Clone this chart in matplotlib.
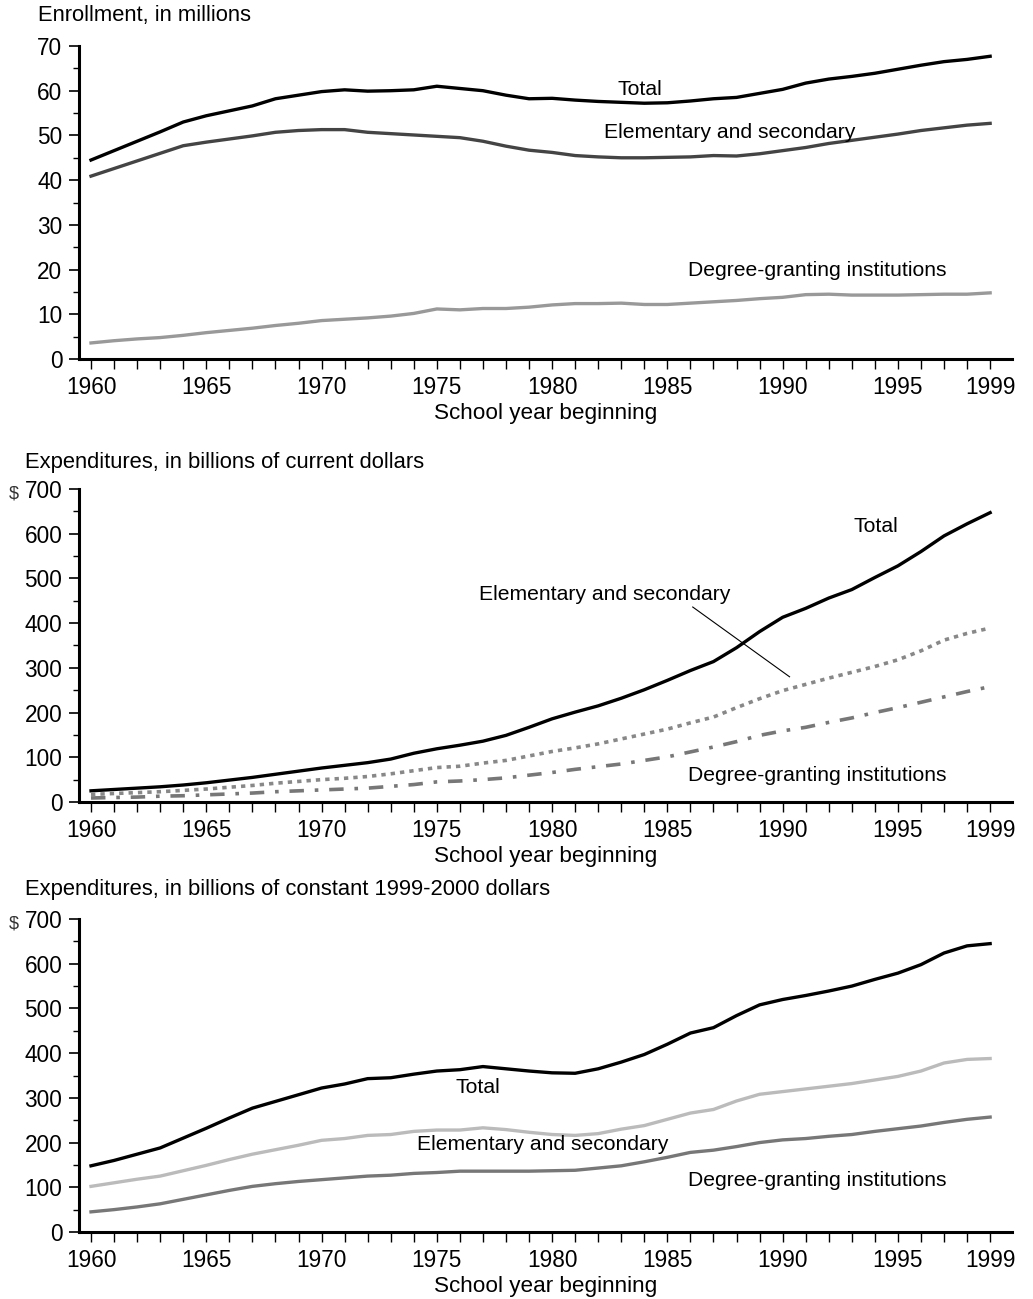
import numpy as np
import matplotlib
matplotlib.use("Agg")
import matplotlib.pyplot as plt
from matplotlib.ticker import MultipleLocator, FixedLocator

plt.rcParams['font.family'] = ['Liberation Sans', 'DejaVu Sans']

years = np.arange(1960, 2000)

# enrollment, millions
enr_total = [44.5, 46.6, 48.7, 50.8, 53.0, 54.4, 55.5, 56.6, 58.2, 59.0,
             59.8, 60.2, 59.9, 60.0, 60.2, 61.0, 60.5, 60.0, 59.0, 58.2,
             58.3, 57.9, 57.6, 57.4, 57.2, 57.3, 57.7, 58.2, 58.5, 59.4,
             60.3, 61.7, 62.6, 63.2, 63.9, 64.8, 65.7, 66.5, 67.0, 67.7]
enr_elsec = [40.9, 42.6, 44.3, 46.0, 47.7, 48.5, 49.2, 49.9, 50.7, 51.1,
             51.3, 51.3, 50.7, 50.4, 50.1, 49.8, 49.5, 48.7, 47.6, 46.7,
             46.2, 45.5, 45.2, 45.0, 45.0, 45.1, 45.2, 45.5, 45.4, 45.9,
             46.6, 47.3, 48.2, 48.9, 49.6, 50.3, 51.1, 51.7, 52.3, 52.7]
enr_degree = [3.6, 4.1, 4.5, 4.8, 5.3, 5.9, 6.4, 6.9, 7.5, 8.0,
              8.6, 8.9, 9.2, 9.6, 10.2, 11.2, 11.0, 11.3, 11.3, 11.6,
              12.1, 12.4, 12.4, 12.5, 12.2, 12.2, 12.5, 12.8, 13.1, 13.5,
              13.8, 14.4, 14.5, 14.3, 14.3, 14.3, 14.4, 14.5, 14.5, 14.8]

# expenditures, billions of current dollars
cur_total = [25, 28, 31, 34, 38, 43, 49, 55, 62, 69,
             76, 82, 88, 96, 109, 119, 127, 136, 149, 167,
             186, 201, 215, 232, 251, 272, 294, 314, 345, 381,
             413, 433, 456, 475, 502, 528, 560, 595, 622, 647]
cur_elsec = [17, 19, 21, 23, 26, 29, 33, 37, 42, 46,
             50, 53, 57, 63, 70, 77, 80, 87, 93, 103,
             113, 121, 130, 141, 152, 163, 177, 190, 211, 231,
             249, 263, 277, 290, 303, 318, 338, 362, 377, 389]
cur_degree = [9, 10, 11, 13, 14, 16, 18, 20, 23, 25,
              27, 29, 31, 35, 39, 45, 47, 50, 54, 60,
              66, 73, 79, 85, 93, 101, 112, 123, 135, 149,
              159, 167, 178, 188, 200, 211, 223, 235, 247, 258]

# expenditures, billions of constant 1999-2000 dollars
con_total = [148, 160, 174, 188, 210, 232, 255, 277, 292, 307,
             322, 331, 343, 345, 353, 360, 363, 370, 365, 360,
             356, 355, 365, 380, 397, 420, 445, 457, 484, 508,
             520, 529, 539, 550, 565, 579, 598, 624, 640, 645]
con_elsec = [102, 110, 118, 125, 137, 149, 162, 174, 184, 194,
             205, 209, 216, 218, 225, 228, 228, 233, 229, 223,
             218, 216, 220, 230, 238, 252, 266, 274, 293, 308,
             314, 320, 326, 332, 340, 348, 360, 378, 386, 388]
con_degree = [45, 50, 56, 63, 73, 83, 93, 102, 108, 113,
              117, 121, 125, 127, 131, 133, 136, 136, 136, 136,
              137, 138, 143, 148, 157, 167, 178, 183, 191, 200,
              206, 209, 214, 218, 225, 231, 237, 245, 252, 257]

xtick_labels = [1960, 1965, 1970, 1975, 1980, 1985, 1990, 1995, 1999]

FS_TICK = 16.3
FS_LAB = 16.2
FS_ANN = 15.2
FS_TITLE = 15.8

fig = plt.figure(figsize=(10.33, 12.99), dpi=100)
L, W = 0.0765, 0.9032
axes = [fig.add_axes([L, 0.7236, W, 0.2410]),
        fig.add_axes([L, 0.3826, W, 0.2410]),
        fig.add_axes([L, 0.0516, W, 0.2409])]


def style(ax, ymax, ystep):
    ax.set_xlim(1959.48, 1999.95)
    ax.set_ylim(0, ymax)
    for s in ['top', 'right']:
        ax.spines[s].set_visible(False)
    for s in ['left', 'bottom']:
        ax.spines[s].set_linewidth(2.2)
    ax.xaxis.set_major_locator(FixedLocator(xtick_labels))
    ax.xaxis.set_minor_locator(FixedLocator(years))
    ax.yaxis.set_major_locator(MultipleLocator(ystep))
    ax.yaxis.set_minor_locator(MultipleLocator(ystep / 2))
    ax.tick_params(axis='x', which='both', direction='out', length=7,
                   width=1, pad=5, labelsize=FS_TICK)
    ax.tick_params(axis='y', which='major', direction='out', length=7,
                   width=1.2, pad=5, labelsize=FS_TICK)
    ax.tick_params(axis='y', which='minor', direction='out', length=4,
                   width=1)
    ax.set_xlabel('School year beginning', fontsize=FS_LAB, labelpad=3)


ax = axes[0]
ax.plot(years, enr_total, color='black', lw=2.4)
ax.plot(years, enr_elsec, color='#444444', lw=2.4)
ax.plot(years, enr_degree, color='#999999', lw=2.4)
style(ax, 70, 10)
ax.text(1983.8, 60.2, 'Total', fontsize=FS_ANN, ha='center', va='center')
ax.text(1987.7, 50.6, 'Elementary and secondary', fontsize=FS_ANN,
        ha='center', va='center')
ax.text(1991.5, 19.7, 'Degree-granting institutions', fontsize=FS_ANN,
        ha='center', va='center')

ax = axes[1]
ax.plot(years, cur_total, color='black', lw=2.4)
ax.plot(years, cur_elsec, color='#888888', lw=2.6, linestyle=(0, (1.2, 1.4)))
ax.plot(years, cur_degree, color='#777777', lw=2.6,
        linestyle=(0, (4, 3, 1, 3)))
style(ax, 700, 100)
ax.text(1994.05, 615, 'Total', fontsize=FS_ANN, ha='center', va='center')
ax.text(1982.3, 465, 'Elementary and secondary', fontsize=FS_ANN,
        ha='center', va='center')
ax.plot([1986.1, 1990.3], [436, 280], color='black', lw=0.8)
ax.text(1991.5, 60, 'Degree-granting institutions', fontsize=FS_ANN,
        ha='center', va='center')

ax = axes[2]
ax.plot(years, con_total, color='black', lw=2.4)
ax.plot(years, con_elsec, color='#bbbbbb', lw=2.4)
ax.plot(years, con_degree, color='#777777', lw=2.4)
style(ax, 700, 100)
ax.text(1976.8, 324, 'Total', fontsize=FS_ANN, ha='center', va='center')
ax.text(1979.6, 195, 'Elementary and secondary', fontsize=FS_ANN,
        ha='center', va='center')
ax.text(1991.5, 116, 'Degree-granting institutions', fontsize=FS_ANN,
        ha='center', va='center')

fig.text(0.0368, 0.9877, 'Enrollment, in millions', fontsize=FS_TITLE,
         ha='left', va='center')
fig.text(0.0242, 0.6436, 'Expenditures, in billions of current dollars',
         fontsize=FS_TITLE, ha='left', va='center')
fig.text(0.0242, 0.3149,
         'Expenditures, in billions of constant 1999-2000 dollars',
         fontsize=FS_TITLE, ha='left', va='center')
fig.text(0.0135, 1 - 494 / 1299, '$', fontsize=13, color='#333333',
         ha='center', va='center')
fig.text(0.0135, 1 - 924 / 1299, '$', fontsize=13, color='#333333',
         ha='center', va='center')

fig.savefig('out.png', dpi=100)
